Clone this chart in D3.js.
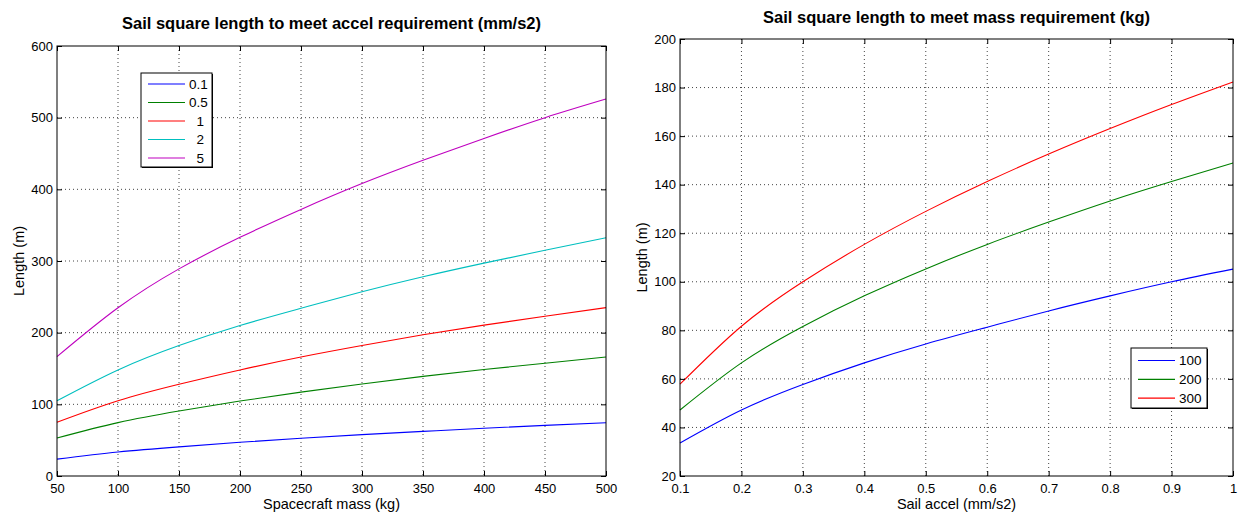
<!DOCTYPE html>
<html>
<head>
<meta charset="utf-8">
<script src="https://cdn.jsdelivr.net/npm/d3@7/dist/d3.min.js"></script>
<style>
  body { margin: 0; background: #fff; }
  svg { display: block; font-family: "Liberation Sans", Arial, Helvetica, sans-serif; }
  .grid line { stroke: #444; stroke-dasharray: 1 3; stroke-width: 1; }
  .tick-label { font-size: 13px; fill: #000; }
  .axis-label { font-size: 14.5px; fill: #000; }
  .title { font-size: 16.5px; font-weight: bold; fill: #000; }
  .legend text { font-size: 13.5px; white-space: pre; }
</style>
</head>
<body>
<div id="chart"></div>
<script>
// data

// left panel: length vs spacecraft mass, one line per accel (mm/s2)
const massX = [50, 100, 150, 200, 250, 300, 350, 400, 450, 500];
const accelLabels = ['0.1', '0.5', '  1', '  2', '  5'];
const lenAccel01 = [23.5, 33.5, 40.7, 47, 52.7, 57.8, 62.3, 66.6, 70.6, 74.3];
const lenAccel05 = [53, 74.5, 90.7, 104.6, 117, 128.4, 139, 148.5, 157.4, 166];
const lenAccel1 = [75, 105, 128, 148, 166, 182, 197, 210.5, 223, 235];
const lenAccel2 = [105, 148, 182, 210, 234, 257, 278, 297, 315, 332.5];
const lenAccel5 = [166.5, 234.7, 289, 333, 372, 408, 440.5, 471, 500, 526];

// right panel: length vs sail accel, one line per mass (kg)
const accelX = [0.1, 0.2, 0.3, 0.4, 0.5, 0.6, 0.7, 0.8, 0.9, 1.0];
const massLabels = ['100', '200', '300'];
const lenMass100 = [33.6, 47.2, 57.7, 66.6, 74.4, 81.3, 88, 94.2, 100, 105.2];
const lenMass200 = [47.2, 66.6, 81.6, 94.2, 105.3, 115.4, 124.6, 133.3, 141.3, 148.9];
const lenMass300 = [57.8, 81.7, 100, 115.4, 129, 141.3, 152.6, 163.1, 173, 182.3];

// ticks
const massTicks = [50, 100, 150, 200, 250, 300, 350, 400, 450, 500];
const lenTicksLeft = [0, 100, 200, 300, 400, 500, 600];
const accelTicks = [0.1, 0.2, 0.3, 0.4, 0.5, 0.6, 0.7, 0.8, 0.9, 1];
const lenTicksRight = [20, 40, 60, 80, 100, 120, 140, 160, 180, 200];

const width = 1238;
const height = 514;
const colors = ['#0000ff', '#008000', '#ff0000', '#00bfbf', '#bf00bf'];

const svg = d3.select('#chart').append('svg')
    .attr('width', width)
    .attr('height', height);

function drawPanel(opt) {
    const x = d3.scaleLinear().domain(opt.xDomain).range([opt.left, opt.right]);
    const y = d3.scaleLinear().domain(opt.yDomain).range([opt.bottom, opt.top]);
    const g = svg.append('g');

    // grid
    const grid = g.append('g').attr('class', 'grid');
    grid.selectAll('.gx')
        .data(opt.xTicks.slice(1, -1))
        .enter().append('line')
        .attr('x1', d => x(d)).attr('x2', d => x(d))
        .attr('y1', opt.top).attr('y2', opt.bottom);
    grid.selectAll('.gy')
        .data(opt.yTicks.slice(1, -1))
        .enter().append('line')
        .attr('y1', d => y(d)).attr('y2', d => y(d))
        .attr('x1', opt.left).attr('x2', opt.right);

    // lines
    const line = d3.line()
        .x((d, i) => x(opt.xData[i]))
        .y(d => y(d))
        .curve(d3.curveNatural);
    g.selectAll('.series')
        .data(opt.series)
        .enter().append('path')
        .attr('fill', 'none')
        .attr('stroke', (d, i) => colors[i])
        .attr('stroke-width', 1.1)
        .attr('d', d => line(d));

    // axes (ticks inward, mirrored on top/right)
    const tickLen = 5;
    const xBottom = d3.axisBottom(x).tickValues(opt.xTicks).tickSize(-tickLen).tickFormat(opt.xFormat);
    const xTop = d3.axisTop(x).tickValues(opt.xTicks).tickSize(-tickLen).tickFormat('');
    const yLeft = d3.axisLeft(y).tickValues(opt.yTicks).tickSize(-tickLen).tickFormat(d3.format('d'));
    const yRight = d3.axisRight(y).tickValues(opt.yTicks).tickSize(-tickLen).tickFormat('');

    const axes = [
        [xBottom, 'translate(0,' + opt.bottom + ')'],
        [xTop, 'translate(0,' + opt.top + ')'],
        [yLeft, 'translate(' + opt.left + ',0)'],
        [yRight, 'translate(' + opt.right + ',0)']
    ];
    axes.forEach(function(a) {
        const ag = g.append('g').attr('transform', a[1]).call(a[0]);
        ag.select('.domain').remove();
        ag.selectAll('.tick line').attr('stroke', '#000');
        ag.selectAll('.tick text')
            .attr('class', 'tick-label')
            .attr('font-size', null)
            .attr('font-family', null);
    });
    // move labels a bit closer to the box
    g.selectAll('g.tick text').each(function() {
        const t = d3.select(this);
        if (t.attr('dy') === '0.71em') t.attr('y', 8);
        if (t.attr('x') !== null && +t.attr('x') < 0) t.attr('x', -4);
    });

    // box
    g.append('rect')
        .attr('x', opt.left).attr('y', opt.top)
        .attr('width', opt.right - opt.left).attr('height', opt.bottom - opt.top)
        .attr('fill', 'none').attr('stroke', '#000').attr('stroke-width', 1);

    // title and labels
    g.append('text')
        .attr('class', 'title')
        .attr('x', (opt.left + opt.right) / 2)
        .attr('y', opt.titleY)
        .attr('text-anchor', 'middle')
        .text(opt.title);
    g.append('text')
        .attr('class', 'axis-label')
        .attr('x', (opt.left + opt.right) / 2)
        .attr('y', 509)
        .attr('text-anchor', 'middle')
        .text(opt.xLabel);
    g.append('text')
        .attr('class', 'axis-label')
        .attr('transform', 'translate(' + opt.yLabelX + ',' + (opt.top + opt.bottom) / 2 + ') rotate(-90)')
        .attr('text-anchor', 'middle')
        .text(opt.yLabel);

    // legend
    const lg = g.append('g').attr('class', 'legend');
    const b = opt.legendBox;
    lg.append('rect')
        .attr('x', b.x + 1).attr('y', b.y + 1)
        .attr('width', b.w).attr('height', b.h)
        .attr('fill', '#000');
    lg.append('rect')
        .attr('x', b.x).attr('y', b.y)
        .attr('width', b.w).attr('height', b.h)
        .attr('fill', '#fff').attr('stroke', '#000').attr('stroke-width', 1);
    opt.labels.forEach(function(lab, i) {
        const ly = b.y + b.first + i * b.step;
        lg.append('line')
            .attr('x1', b.x + 7).attr('x2', b.x + 44)
            .attr('y1', ly).attr('y2', ly)
            .attr('stroke', colors[i]).attr('stroke-width', 1.2);
        lg.append('text')
            .attr('x', b.x + 48).attr('y', ly)
            .attr('dy', '0.36em')
            .attr('xml:space', 'preserve')
            .text(lab);
    });
}

drawPanel({
    left: 57, right: 606, top: 46, bottom: 476,
    xDomain: [50, 500], yDomain: [0, 600],
    xTicks: massTicks, yTicks: lenTicksLeft,
    xFormat: d3.format('d'),
    xData: massX,
    series: [lenAccel01, lenAccel05, lenAccel1, lenAccel2, lenAccel5],
    labels: accelLabels,
    title: 'Sail square length to meet accel requirement (mm/s2)',
    titleY: 29,
    xLabel: 'Spacecraft mass (kg)',
    yLabel: 'Length (m)',
    yLabelX: 24,
    legendBox: { x: 141, y: 73, w: 71, h: 94, first: 11, step: 18.5 }
});

drawPanel({
    left: 680, right: 1233, top: 39, bottom: 476,
    xDomain: [0.1, 1], yDomain: [20, 200],
    xTicks: accelTicks, yTicks: lenTicksRight,
    xFormat: d => d === 1 ? '1' : d3.format('.1f')(d),
    xData: accelX,
    series: [lenMass100, lenMass200, lenMass300],
    labels: massLabels,
    title: 'Sail square length to meet mass requirement (kg)',
    titleY: 23,
    xLabel: 'Sail accel (mm/s2)',
    yLabel: 'Length (m)',
    yLabelX: 647,
    legendBox: { x: 1131, y: 348, w: 76, h: 60, first: 12.5, step: 18.8 }
});
</script>
</body>
</html>
